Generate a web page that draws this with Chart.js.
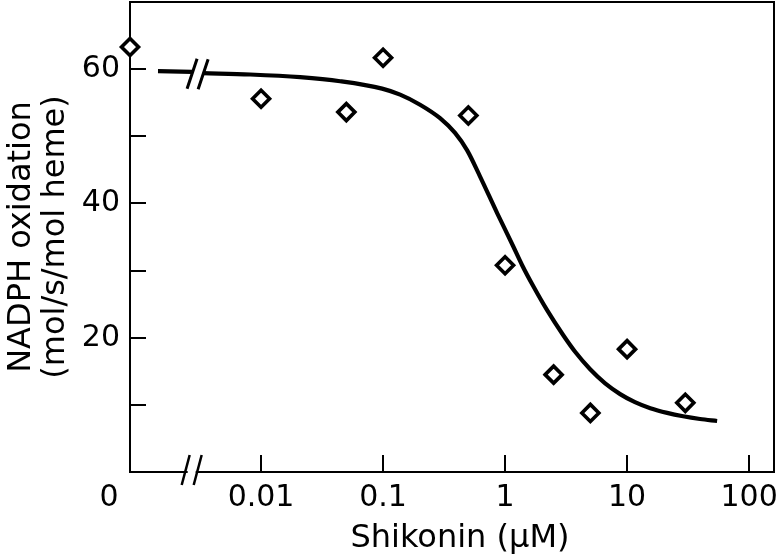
<!DOCTYPE html>
<html><head><meta charset="utf-8">
<script src="https://cdn.jsdelivr.net/npm/chart.js@4"></script>
<style>html,body{margin:0;padding:0;background:#fff}</style>
</head><body>
<canvas id="c" width="784" height="556" style="display:block;width:784px;height:556px"></canvas>
<script>
// ---- data ----
const concentrationsUM = [0, 0.01, 0.05, 0.1, 0.5, 1, 2.5, 5, 10, 30];
const nadphOxidation = [63.3, 55.6, 53.6, 61.7, 53.1, 30.8, 14.5, 8.8, 18.3, 10.3];

// fitted curve: short piece in the "zero" region, then the dose-response part
const fitBeforeBreakX = [0.00143, 0.00272];
const fitBeforeBreakY = [59.7, 59.6];
const fitX = [0.00335, 0.00813, 0.0209, 0.0445, 0.0982, 0.138, 0.201, 0.293, 0.389, 0.489,
              0.624, 0.859, 1.16, 1.38, 1.70, 2.21, 2.99, 3.75, 4.98, 6.61, 8.77, 11.6, 15.5, 21.3,
              28.8, 39.6, 54.7];
const fitY = [59.4, 59.2, 58.8, 58.2, 57.1, 56.2, 54.7, 52.7, 50.5, 47.9,
              44.0, 38.6, 33.7, 30.8, 27.7, 24.1, 20.4, 17.9, 15.3, 13.2, 11.6, 10.4, 9.5, 8.8,
              8.3, 7.9, 7.6];

const xTickValues = [0.01, 0.1, 1, 10, 100];
const xTickLabels = ["0.01", "0.1", "1", "10", "100"];
const zeroTickLabel = "0";
const yTickValues = [10, 20, 30, 40, 50, 60];
const yTickLabelled = [20, 40, 60];

const X_MIN = 0.000843;          // left edge of the broken log axis
const X_MAX = 160;
const ZERO_POSITION = X_MIN;     // zero concentration is drawn at the axis start
const AXIS_BREAK = 0.0027;       // where the axis break marks sit
const Y_MIN = 0, Y_MAX = 70;

const xTitle = "Shikonin (µM)";
const yTitle = ["NADPH oxidation", "(mol/s/mol heme)"];

// ---- styling ----
const FAMILY = "'DejaVu Sans', Verdana, sans-serif";
const TICK_FONT = {family: FAMILY, size: 30};
const TITLE_FONT = {family: FAMILY, size: 32, lineHeight: '34px'};
const X_TICK_PAD = 8;

function slash(ctx, x, y, dx, dy) {
  ctx.beginPath();
  ctx.moveTo(x + dx, y - dy);
  ctx.lineTo(x - dx, y + dy);
  ctx.stroke();
}

const framePlugin = {
  id: 'frame',
  beforeDatasetsDraw(chart) {
    const {ctx, chartArea: a, scales: {x, y}} = chart;
    ctx.save();
    ctx.strokeStyle = '#000';
    ctx.lineWidth = 2;
    ctx.strokeRect(a.left, a.top, a.right - a.left, a.bottom - a.top);
    // inward tick marks
    ctx.beginPath();
    xTickValues.forEach(v => {
      const px = Math.round(x.getPixelForValue(v));
      ctx.moveTo(px, a.bottom); ctx.lineTo(px, a.bottom - 17);
    });
    yTickValues.forEach(v => {
      const py = Math.round(y.getPixelForValue(v));
      ctx.moveTo(a.left, py); ctx.lineTo(a.left + 16, py);
    });
    ctx.stroke();
    // axis break on the x axis
    const bx = x.getPixelForValue(AXIS_BREAK);
    ctx.fillStyle = '#fff';
    ctx.fillRect(bx - 4, a.bottom - 3, 8, 6);
    ctx.lineWidth = 2.5;
    slash(ctx, bx - 6, a.bottom - 2, 4, 15);
    slash(ctx, bx + 6, a.bottom - 2, 4, 15);
    // "0" label of the x axis, left of the break
    ctx.fillStyle = '#000';
    ctx.font = `${TICK_FONT.size}px ${FAMILY}`;
    ctx.textAlign = 'center';
    ctx.textBaseline = 'middle';
    ctx.fillText(zeroTickLabel, x.getPixelForValue(ZERO_POSITION) - 21,
      a.bottom + X_TICK_PAD + TICK_FONT.size * 1.2 / 2);
    // x axis title
    ctx.font = `${TITLE_FONT.size}px ${FAMILY}`;
    ctx.fillText(xTitle, (a.left + a.right) / 2 + 8, chart.height - 17);
    ctx.restore();
  },
  afterDatasetsDraw(chart) {
    // break marks on the fitted curve, at the ends of the two pieces
    const {ctx} = chart;
    const m1 = chart.getDatasetMeta(1).data;
    const m2 = chart.getDatasetMeta(2).data;
    const p1 = m1[m1.length - 1], p2 = m2[0];
    ctx.save();
    ctx.strokeStyle = '#000';
    ctx.lineWidth = 3;
    slash(ctx, p1.x, p1.y + 2, 5, 15);
    slash(ctx, p2.x, p2.y + 1, 5, 15);
    ctx.restore();
  }
};

const pts = concentrationsUM.map((c, i) => ({x: c === 0 ? ZERO_POSITION : c, y: nadphOxidation[i]}));
const fit0 = fitBeforeBreakX.map((v, i) => ({x: v, y: fitBeforeBreakY[i]}));
const fit1 = fitX.map((v, i) => ({x: v, y: fitY[i]}));

new Chart(document.getElementById('c'), {
  type: 'scatter',
  data: {
    datasets: [
      {data: pts, pointStyle: 'rectRot', pointRadius: 8.5, borderWidth: 3.6,
       borderColor: '#000', backgroundColor: '#fff', showLine: false, order: 0, clip: false},
      {data: fit0, showLine: true, borderColor: '#000', borderWidth: 4.2, pointRadius: 0,
       order: 1, cubicInterpolationMode: 'monotone', fill: false},
      {data: fit1, showLine: true, borderColor: '#000', borderWidth: 4.2, pointRadius: 0,
       order: 1, cubicInterpolationMode: 'monotone', fill: false}
    ]
  },
  options: {
    responsive: false, animation: false, devicePixelRatio: 1,
    layout: {autoPadding: false, padding: {top: 2, right: 10, left: 0, bottom: 0}},
    plugins: {legend: {display: false}, tooltip: {enabled: false}},
    scales: {
      x: {
        type: 'logarithmic', min: X_MIN, max: X_MAX,
        afterBuildTicks: s => { s.ticks = xTickValues.map(v => ({value: v})); },
        afterFit: s => { s.height = 84; s.paddingLeft = 0; s.paddingRight = 0; },
        grid: {display: false, drawTicks: false}, border: {display: false},
        ticks: {font: TICK_FONT, color: '#000', padding: X_TICK_PAD, maxRotation: 0, autoSkip: false,
                callback: v => { const i = xTickValues.indexOf(v); return i >= 0 ? xTickLabels[i] : ''; }},
        title: {display: false}
      },
      y: {
        min: Y_MIN, max: Y_MAX,
        afterBuildTicks: s => { s.ticks = yTickValues.map(v => ({value: v})); },
        afterFit: s => { s.width = 130; s.paddingTop = 0; s.paddingBottom = 0; },
        grid: {display: false, drawTicks: false}, border: {display: false},
        ticks: {font: TICK_FONT, color: '#000', padding: 10, autoSkip: false,
                callback: v => yTickLabelled.includes(v) ? String(v) : ''},
        title: {display: true, text: yTitle, font: TITLE_FONT, color: '#000', padding: {top: 5, bottom: 0}}
      }
    }
  },
  plugins: [framePlugin]
});
</script>
</body></html>
